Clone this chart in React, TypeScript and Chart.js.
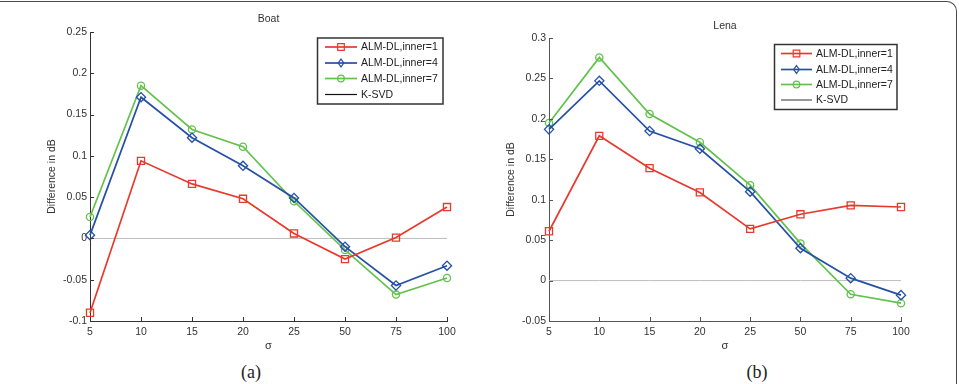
import React, { useEffect, useRef } from "react";
import { Chart, registerables } from "chart.js";

Chart.register(...registerables);

const sigmaLabels = ["5", "10", "15", "20", "25", "50", "75", "100"];
const seriesNames = ["ALM-DL,inner=1", "ALM-DL,inner=4", "ALM-DL,inner=7", "K-SVD"];

const boatInner1 = [-0.09, 0.094, 0.066, 0.048, 0.006, -0.025, 0.001, 0.038];
const boatInner4 = [0.004, 0.171, 0.122, 0.088, 0.049, -0.01, -0.057, -0.033];
const boatInner7 = [0.026, 0.185, 0.132, 0.111, 0.045, -0.014, -0.068, -0.048];
const boatKsvd = [0, 0, 0, 0, 0, 0, 0, 0];

const lenaInner1 = [0.061, 0.179, 0.139, 0.109, 0.064, 0.082, 0.093, 0.091];
const lenaInner4 = [0.187, 0.247, 0.185, 0.163, 0.11, 0.04, 0.003, -0.018];
const lenaInner7 = [0.195, 0.276, 0.206, 0.171, 0.118, 0.046, -0.017, -0.028];
const lenaKsvd = [0, 0, 0, 0, 0, 0, 0, 0];

const boatYRange = [-0.1, 0.25];
const lenaYRange = [-0.05, 0.3];
const yStep = 0.05;

const RED = "#e8392c";
const BLUE = "#2450a6";
const GREEN = "#62c24c";
const ZERO = "#bdbdbd";
const FONT = '"Liberation Sans", Arial, sans-serif';

type Panel = {
  title: string;
  data: number[][];
  yRange: number[];
  w: number;
  plot: { left: number; right: number; top: number; bottom: number };
  titleY: number;
  yTitleX: number;
  legend: { x0: number; y0: number; x1: number; y1: number; l0: number; l1: number; tx: number; rows: number[] };
  ksvdLegendColor: string;
  axisColor: string;
};

function drawMarker(ctx: CanvasRenderingContext2D, kind: string, x: number, y: number, r: number) {
  ctx.beginPath();
  if (kind === "rect") {
    ctx.rect(x - r, y - r, 2 * r, 2 * r);
  } else if (kind === "rectRot") {
    ctx.moveTo(x, y - r * 1.2);
    ctx.lineTo(x + r * 0.85, y);
    ctx.lineTo(x, y + r * 1.2);
    ctx.lineTo(x - r * 0.85, y);
    ctx.closePath();
  } else {
    ctx.arc(x, y, r, 0, Math.PI * 2);
  }
  ctx.stroke();
}

function ChartPanel({ p }: { p: Panel }) {
  const ref = useRef<HTMLCanvasElement | null>(null);
  useEffect(() => {
    const H = 360;
    const colors = [RED, BLUE, GREEN];
    const styles = ["rect", "rectRot", "circle"];
    const radii = [5, 4.6, 3.6];
    const datasets: any[] = [0, 1, 2].map((i) => ({
      label: seriesNames[i],
      data: p.data[i],
      borderColor: colors[i],
      backgroundColor: "rgba(0,0,0,0)",
      borderWidth: 1.7,
      pointStyle: styles[i],
      pointRadius: radii[i],
      pointBorderWidth: 1.3,
      pointBackgroundColor: "rgba(0,0,0,0)",
      pointBorderColor: colors[i],
      tension: 0,
    }));
    datasets.push({
      label: seriesNames[3],
      data: p.data[3],
      borderColor: ZERO,
      borderWidth: 1,
      pointRadius: 0,
      tension: 0,
    });

    const overlay = {
      id: "overlay",
      afterDraw(chart: any) {
        const ctx = chart.ctx as CanvasRenderingContext2D;
        const ca = chart.chartArea;
        const xs = chart.scales.x;
        const ys = chart.scales.y;
        ctx.save();
        ctx.strokeStyle = p.axisColor;
        ctx.lineWidth = 1;
        ctx.beginPath();
        for (let i = 0; i < sigmaLabels.length; i++) {
          const x = Math.round(xs.getPixelForTick(i)) + 0.5;
          ctx.moveTo(x, ca.bottom);
          ctx.lineTo(x, ca.bottom - 4);
        }
        ys.ticks.forEach((t: any) => {
          const y = Math.round(ys.getPixelForValue(t.value)) + 0.5;
          ctx.moveTo(ca.left, y);
          ctx.lineTo(ca.left + 4, y);
        });
        ctx.stroke();
        ctx.fillStyle = "#333";
        ctx.font = "10.5px " + FONT;
        ctx.textAlign = "center";
        ctx.textBaseline = "middle";
        ctx.fillText(p.title, (ca.left + ca.right) / 2, p.titleY);
        ctx.font = "11px " + FONT;
        ctx.fillText("σ", (ca.left + ca.right) / 2, 346);
        ctx.save();
        ctx.translate(p.yTitleX, (ca.top + ca.bottom) / 2);
        ctx.rotate(-Math.PI / 2);
        ctx.font = "10.5px " + FONT;
        ctx.fillText("Difference in dB", 0, 0);
        ctx.restore();
        const L = p.legend;
        ctx.fillStyle = "#fff";
        ctx.fillRect(L.x0, L.y0, L.x1 - L.x0, L.y1 - L.y0);
        ctx.strokeStyle = "#333";
        ctx.lineWidth = 1.5;
        ctx.strokeRect(L.x0, L.y0, L.x1 - L.x0, L.y1 - L.y0);
        const lc = [RED, BLUE, GREEN, p.ksvdLegendColor];
        for (let i = 0; i < 4; i++) {
          const y = L.rows[i];
          ctx.strokeStyle = lc[i];
          ctx.lineWidth = i < 3 ? 1.7 : 1.2;
          ctx.beginPath();
          ctx.moveTo(L.l0, y);
          ctx.lineTo(L.l1, y);
          ctx.stroke();
          if (i < 3) {
            ctx.lineWidth = 1.2;
            drawMarker(ctx, styles[i], (L.l0 + L.l1) / 2, y, 3.3);
          }
          ctx.fillStyle = "#222";
          ctx.font = "10.5px " + FONT;
          ctx.textAlign = "left";
          ctx.textBaseline = "middle";
          ctx.fillText(seriesNames[i], L.tx, y + 0.5);
        }
        ctx.restore();
      },
    };

    const chart = new Chart(ref.current as HTMLCanvasElement, {
      type: "line",
      data: { labels: sigmaLabels, datasets },
      options: {
        animation: false,
        responsive: false,
        devicePixelRatio: 1,
        layout: { padding: { left: 0, top: p.plot.top, right: p.w - p.plot.right, bottom: 0 } },
        plugins: { legend: { display: false }, title: { display: false }, tooltip: { enabled: false } },
        scales: {
          x: {
            type: "category",
            offset: false,
            grid: { display: true, drawOnChartArea: false, drawTicks: false },
            border: { display: true, color: p.axisColor, width: 1 },
            ticks: { color: "#333", font: { family: FONT, size: 10.5 }, padding: 5, maxRotation: 0, autoSkip: false },
            afterFit: (s: any) => { s.height = H - p.plot.bottom; },
          },
          y: {
            min: p.yRange[0],
            max: p.yRange[1],
            grid: { display: true, drawOnChartArea: false, drawTicks: false },
            border: { display: true, color: p.axisColor, width: 1 },
            ticks: {
              stepSize: yStep,
              color: "#333",
              font: { family: FONT, size: 10.5 },
              padding: 3,
              callback: (v: any) => String(Number(Number(v).toFixed(2))),
            },
            afterFit: (s: any) => { s.width = p.plot.left; },
          },
        },
      },
      plugins: [overlay],
    } as any);
    return () => chart.destroy();
  }, [p]);
  return <canvas ref={ref} width={p.w} height={360} style={{ display: "block", width: p.w, height: 360 }} />;
}

const boatPanel: Panel = {
  title: "Boat",
  data: [boatInner1, boatInner4, boatInner7, boatKsvd],
  yRange: boatYRange,
  w: 479,
  plot: { left: 90, right: 447, top: 32, bottom: 321 },
  titleY: 19,
  yTitleX: 52,
  legend: { x0: 317.5, y0: 38, x1: 443, y1: 104, l0: 325, l1: 357, tx: 361, rows: [47, 63, 78.5, 94.5] },
  ksvdLegendColor: "#111",
  axisColor: "#333",
};

const lenaPanel: Panel = {
  title: "Lena",
  data: [lenaInner1, lenaInner4, lenaInner7, lenaKsvd],
  yRange: lenaYRange,
  w: 480,
  plot: { left: 70, right: 422, top: 38, bottom: 321 },
  titleY: 26,
  yTitleX: 32,
  legend: { x0: 295.5, y0: 44.5, x1: 418, y1: 109.5, l0: 302, l1: 333, tx: 337, rows: [53.5, 69.5, 84.5, 100] },
  ksvdLegendColor: "#555",
  axisColor: "#555",
};

export default function App() {
  return (
    <div style={{ position: "fixed", left: 0, top: 0, width: 959, height: 384, background: "#fff", overflow: "hidden" }}>
      <div
        style={{
          position: "absolute",
          left: -20,
          top: 1,
          width: 977,
          height: 420,
          boxSizing: "border-box",
          borderTop: "1.5px solid #4a4a4a",
          borderRight: "1.5px solid #4a4a4a",
          borderTopRightRadius: 10,
        }}
      />
      <div style={{ position: "absolute", left: 0, top: 0 }}>
        <ChartPanel p={boatPanel} />
      </div>
      <div style={{ position: "absolute", left: 479, top: 0 }}>
        <ChartPanel p={lenaPanel} />
      </div>
      <div style={{ position: "absolute", left: 221, top: 360, width: 60, textAlign: "center", font: '18px "Liberation Serif", "Times New Roman", serif', lineHeight: "24px", color: "#222" }}>(a)</div>
      <div style={{ position: "absolute", left: 727, top: 360, width: 60, textAlign: "center", font: '18px "Liberation Serif", "Times New Roman", serif', lineHeight: "24px", color: "#222" }}>(b)</div>
    </div>
  );
}
